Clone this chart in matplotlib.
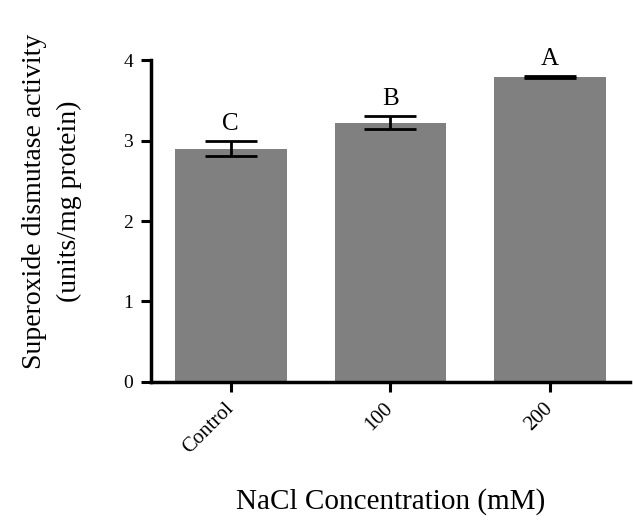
import matplotlib.pyplot as plt
import matplotlib.transforms as mtransforms
import numpy as np

# data
groups = ['Control', '100', '200']
sod = [2.90, 3.22, 3.79]
sod_err = [0.09, 0.08, 0.01]
letters = ['C', 'B', 'A']

plt.rcParams['font.family'] = ['Liberation Serif', 'DejaVu Serif']

fig = plt.figure(figsize=(6.33, 5.2), dpi=100)
ax = fig.add_axes([0.2385, 0.2654, 0.7565, 0.6192])

x = np.arange(len(groups))
ax.bar(x, sod, width=0.7, color='#808080', zorder=1)
ax.errorbar(x, sod, yerr=sod_err, fmt='none', ecolor='black',
            elinewidth=2, capsize=19, capthick=2, zorder=2)

for xi, v, e, lab in zip(x, sod, sod_err, letters):
    ax.text(xi, v + e + 0.08, lab, ha='center', va='bottom', fontsize=18)

ax.set_xlim(-0.5, 2.5)
ax.set_ylim(0, 4)
ax.set_yticks([0, 1, 2, 3, 4])
ax.set_xticks(x)
ax.set_xticklabels(groups, rotation=45, ha='right', va='center',
                   rotation_mode='anchor', fontsize=15)
shift = mtransforms.ScaledTranslation(8 / 72, -4 / 72, fig.dpi_scale_trans)
for t in ax.get_xticklabels():
    t.set_transform(t.get_transform() + shift)
ax.tick_params(axis='y', labelsize=14, width=2.2, length=7, pad=6)
ax.tick_params(axis='x', width=2.2, length=7, pad=10)

for s in ['top', 'right']:
    ax.spines[s].set_visible(False)
for s in ['left', 'bottom']:
    ax.spines[s].set_linewidth(2.5)

ax.set_ylabel('Superoxide dismutase activity\n(units/mg protein)', fontsize=20,
              linespacing=1.5, labelpad=28)
ax.yaxis.set_label_coords(-0.145, 0.56)
ax.set_xlabel('NaCl Concentration (mM)', fontsize=21, labelpad=22)

fig.savefig('out.png', dpi=100)
